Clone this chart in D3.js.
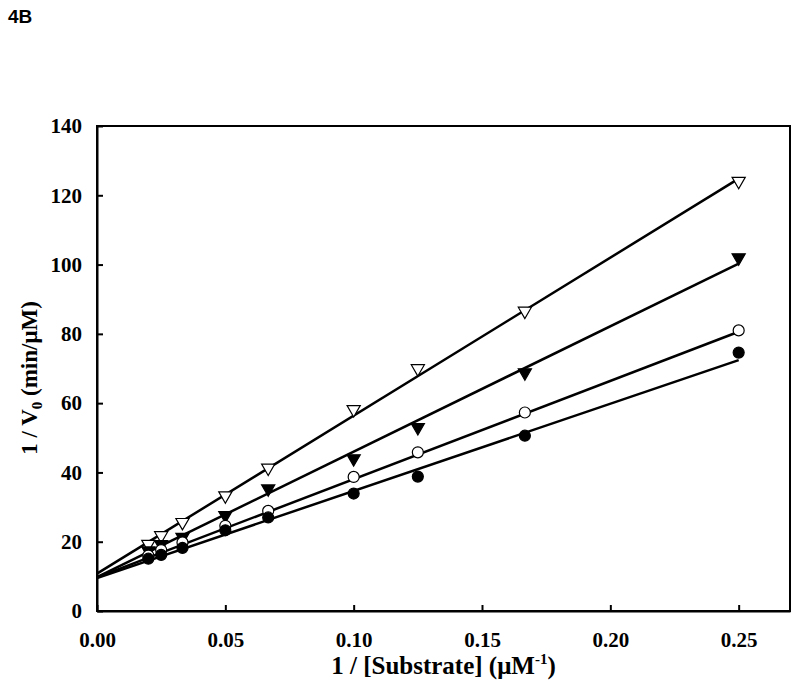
<!DOCTYPE html>
<html>
<head>
<meta charset="utf-8">
<script src="https://cdn.jsdelivr.net/npm/d3@7"></script>
<style>
body { margin: 0; background: #fff; }
.axis text { font-family: "Liberation Serif", "Times New Roman", serif; font-weight: bold; font-size: 21px; fill: #000; }
.axis path, .axis line { stroke: #000; stroke-width: 2px; }
</style>
</head>
<body>
<div id="graphId"></div>
<script>
var wt = 800;
var ht = 692;
var margin = {top: 126, right: 10, bottom: 81, left: 97};
var width = wt - margin.left - margin.right;
var height = ht - margin.top - margin.bottom;

// 1/[S] values (uM^-1)
var xVals = [0.02, 0.025, 0.0333, 0.05, 0.0667, 0.1, 0.125, 0.1667, 0.25];
// 1/V0 for each series
var openTri = [19.3, 21.8, 25.6, 33.3, 41.3, 58.2, 70.0, 86.6, 124.1];
var filledTri = [17.4, 19.2, 21.3, 27.6, 35.3, 44.0, 53.0, 68.8, 102.0];
var openCirc = [16.0, 17.6, 19.8, 24.6, 28.9, 38.7, 45.8, 57.3, 81.0];
var filledCirc = [15.1, 16.2, 18.2, 23.3, 27.0, 33.9, 38.8, 50.6, 74.6];
// fitted lines: value at x=0 and at x=0.25
var fitStart = [10.8, 9.8, 9.7, 9.5];
var fitEnd = [124.8, 100.3, 80.6, 72.4];
var xTicks = [0, 0.05, 0.10, 0.15, 0.20, 0.25];
var yTicks = [0, 20, 40, 60, 80, 100, 120, 140];

var series = [
    {vals: openTri, shape: "tri", fill: "#fff"},
    {vals: filledTri, shape: "tri", fill: "#000"},
    {vals: openCirc, shape: "circ", fill: "#fff"},
    {vals: filledCirc, shape: "circ", fill: "#000"}
];

var svg = d3.select("#graphId").append("svg")
    .attr("width", wt)
    .attr("height", ht);

svg.append("text")
    .attr("x", 8)
    .attr("y", 23)
    .style("font-family", "Arial, 'Liberation Sans', sans-serif")
    .style("font-weight", "bold")
    .style("font-size", "19px")
    .text("4B");

var g = svg.append("g")
    .attr("transform", "translate(" + margin.left + "," + margin.top + ")");

var x = d3.scaleLinear().domain([0, 0.27]).range([0, width]);
var y = d3.scaleLinear().domain([0, 140]).range([height, 0]);

// frame
g.append("rect")
    .attr("width", width)
    .attr("height", height)
    .attr("fill", "none")
    .attr("stroke", "#000")
    .attr("stroke-width", 2);

g.append("g")
    .attr("class", "axis axis--x")
    .attr("transform", "translate(0," + height + ")")
    .call(d3.axisBottom(x).tickValues(xTicks).tickFormat(d3.format(".2f"))
        .tickSizeInner(-6).tickSizeOuter(0).tickPadding(21));

g.append("g")
    .attr("class", "axis axis--y")
    .call(d3.axisLeft(y).tickValues(yTicks)
        .tickSizeInner(-6).tickSizeOuter(0).tickPadding(15));

// fit lines
fitStart.forEach(function (s, i) {
    g.append("line")
        .attr("x1", x(0))
        .attr("y1", y(s))
        .attr("x2", x(0.25))
        .attr("y2", y(fitEnd[i]))
        .attr("stroke", "#000")
        .attr("stroke-width", 2.5);
});

// markers
var triDown = d3.symbol().type(d3.symbolTriangle).size(75);
series.forEach(function (s) {
    var pts = g.append("g").selectAll("path")
        .data(s.vals.map(function (v, i) { return {x: xVals[i], y: v}; }))
        .enter();
    if (s.shape === "tri") {
        pts.append("path")
            .attr("d", triDown)
            .attr("transform", function (d) {
                return "translate(" + x(d.x) + "," + y(d.y) + ") rotate(180)";
            })
            .attr("fill", s.fill)
            .attr("stroke", "#000")
            .attr("stroke-width", 1.2);
    } else {
        pts.append("circle")
            .attr("cx", function (d) { return x(d.x); })
            .attr("cy", function (d) { return y(d.y); })
            .attr("r", 5.5)
            .attr("fill", s.fill)
            .attr("stroke", "#000")
            .attr("stroke-width", 1.2);
    }
});

// axis titles
var titleFont = "'Liberation Serif', 'Times New Roman', serif";
var xt = svg.append("text")
    .attr("x", margin.left + x(0.135))
    .attr("y", 674)
    .attr("text-anchor", "middle")
    .style("font-family", titleFont)
    .style("font-weight", "bold")
    .style("font-size", "25px");
xt.append("tspan").text("1 / [Substrate] (\u03bcM");
xt.append("tspan").attr("dy", -10).style("font-size", "15px").text("-1");
xt.append("tspan").attr("dy", 10).text(")");

var yt = svg.append("text")
    .attr("transform", "translate(37," + 378 + ") rotate(-90)")
    .attr("text-anchor", "middle")
    .style("font-family", titleFont)
    .style("font-weight", "bold")
    .style("font-size", "23px");
yt.append("tspan").text("1 / V");
yt.append("tspan").attr("dy", 5).style("font-size", "15px").text("0");
yt.append("tspan").attr("dy", -5).text(" (min/\u03bcM)");
</script>
</body>
</html>
